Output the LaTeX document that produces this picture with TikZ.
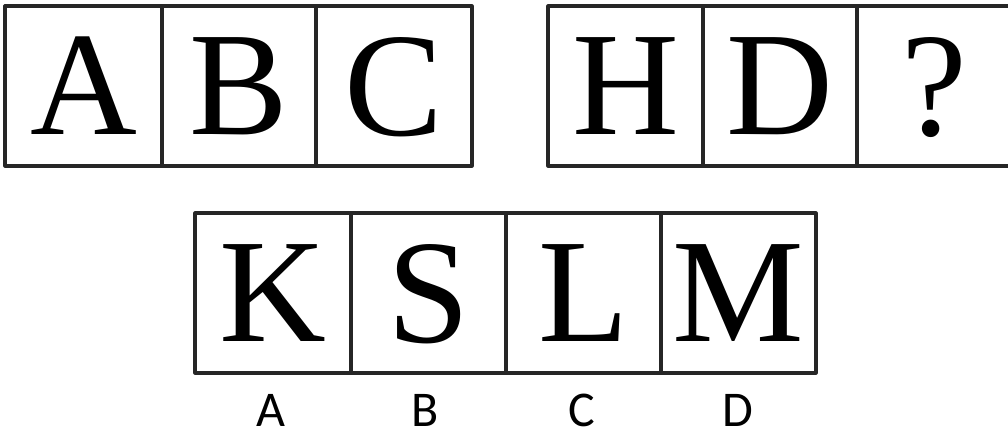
\documentclass[tikz,border=0pt]{standalone}
\usepackage{fontspec}
\setmainfont{Liberation Serif}
\newfontfamily\labelfont{Carlito}
\begin{document}
\begin{tikzpicture}[x=1pt,y=-1pt,
  cell/.style={draw=black!85, line width=3.2pt, line join=round, minimum height=160pt,
    inner sep=0pt, text depth=0pt, font=\fontsize{148}{148}\selectfont},
  opt/.style={font=\labelfont\fontsize{50}{50}\selectfont, inner sep=0pt, text depth=0pt}]
\useasboundingbox (0,0) rectangle (1008,437);
\clip (0,0) rectangle (1008,437);
% top left group
\node[cell, minimum width=157pt] (t1) at (83.5,86) {A};
\node[cell, minimum width=154pt] (t2) at (239,86) {B};
\node[cell, minimum width=156pt] (t3) at (394,86) {C};
% top right group
\node[cell, minimum width=155pt] (u1) at (625.5,86) {H};
\node[cell, minimum width=154pt] (u2) at (780,86) {D};
\node[cell, minimum width=155pt] (u3) at (934.5,86) {?};
% options
\node[cell, minimum width=156pt] (k) at (273,293) {K};
\node[cell, minimum width=155pt] (s) at (428.5,293) {S};
\node[cell, minimum width=155pt] (l) at (583.5,293) {L};
\node[cell, minimum width=155pt] (m) at (738.5,293) {M};
\node[opt] (la) at (271,410) {A};
\node[opt] (lb) at (425,410) {B};
\node[opt] (lc) at (582,410) {C};
\node[opt] (ld) at (738,410) {D};
\end{tikzpicture}
\end{document}
